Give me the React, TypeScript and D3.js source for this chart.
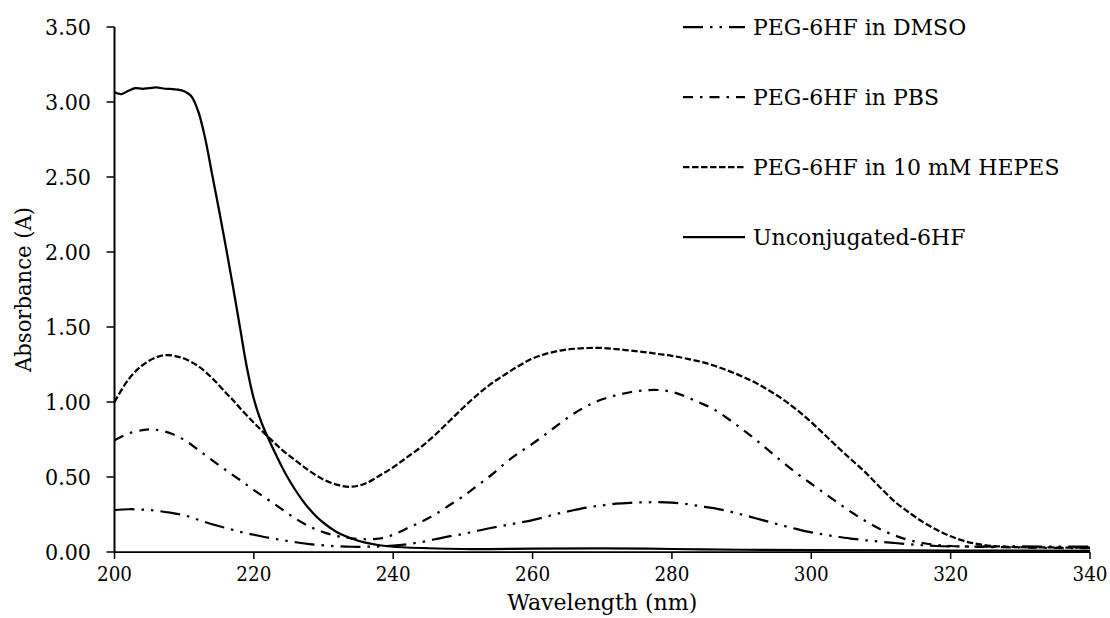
import React from "react";
import * as d3 from "d3";

const xTicks = [200, 220, 240, 260, 280, 300, 320, 340];
const yTicks = [0, 0.5, 1, 1.5, 2, 2.5, 3, 3.5];

const seriesNames = [
  "PEG-6HF in DMSO",
  "PEG-6HF in PBS",
  "PEG-6HF in 10 mM HEPES",
  "Unconjugated-6HF",
];

const dmso: [number, number][] = [
  [200, 0.28], [202, 0.285], [204, 0.283], [206, 0.275], [208, 0.262], [210, 0.245],
  [212, 0.215], [214, 0.185], [216, 0.16], [218, 0.135], [220, 0.115], [222, 0.096],
  [224, 0.08], [226, 0.065], [228, 0.053], [230, 0.044], [232, 0.038], [234, 0.035],
  [236, 0.035], [238, 0.037], [240, 0.042], [242, 0.052], [244, 0.066], [246, 0.085],
  [248, 0.104], [250, 0.12], [252, 0.14], [254, 0.16], [256, 0.178], [258, 0.195],
  [260, 0.213], [262, 0.236], [264, 0.26], [266, 0.28], [268, 0.298], [270, 0.311],
  [272, 0.322], [274, 0.328], [276, 0.331], [278, 0.332], [280, 0.329], [282, 0.32],
  [284, 0.306], [286, 0.292], [288, 0.273], [290, 0.25], [292, 0.225], [294, 0.2],
  [296, 0.175], [298, 0.152], [300, 0.131], [302, 0.115], [304, 0.1], [306, 0.088],
  [308, 0.077], [310, 0.068], [312, 0.06], [314, 0.052], [316, 0.045], [318, 0.04],
  [320, 0.038], [325, 0.036], [330, 0.037], [335, 0.036], [340, 0.035],
];

const pbs: [number, number][] = [
  [200, 0.745], [202, 0.79], [204, 0.812], [205, 0.818], [206, 0.815], [208, 0.792],
  [210, 0.747], [212, 0.682], [214, 0.612], [216, 0.545], [218, 0.48], [220, 0.413],
  [222, 0.35], [224, 0.286], [226, 0.222], [228, 0.17], [230, 0.132], [232, 0.106],
  [234, 0.091], [236, 0.085], [238, 0.09], [240, 0.115], [242, 0.158], [244, 0.2],
  [246, 0.25], [248, 0.31], [250, 0.37], [252, 0.44], [254, 0.51], [256, 0.59],
  [258, 0.66], [260, 0.722], [262, 0.79], [264, 0.86], [266, 0.925], [268, 0.978],
  [270, 1.018], [272, 1.045], [274, 1.065], [276, 1.077], [278, 1.08], [280, 1.067],
  [282, 1.035], [284, 0.995], [286, 0.952], [288, 0.89], [290, 0.822], [292, 0.75],
  [294, 0.672], [296, 0.595], [298, 0.522], [300, 0.455], [302, 0.388], [304, 0.322],
  [306, 0.258], [308, 0.2], [310, 0.15], [312, 0.11], [314, 0.08], [316, 0.06],
  [318, 0.047], [320, 0.04], [325, 0.034], [330, 0.03], [335, 0.027], [340, 0.025],
];

const hepes: [number, number][] = [
  [200, 1.0], [202, 1.15], [204, 1.245], [206, 1.298], [207.5, 1.313], [209, 1.303],
  [210, 1.29], [212, 1.24], [214, 1.16], [216, 1.06], [217, 1.013], [218, 0.96],
  [220, 0.862], [222, 0.77], [224, 0.683], [226, 0.61], [228, 0.54], [230, 0.483],
  [232, 0.447], [234, 0.435], [236, 0.457], [238, 0.508], [240, 0.565], [242, 0.632],
  [244, 0.7], [246, 0.78], [248, 0.87], [250, 0.96], [252, 1.045], [254, 1.12],
  [256, 1.182], [258, 1.24], [260, 1.29], [262, 1.322], [264, 1.343], [266, 1.355],
  [268, 1.36], [270, 1.36], [272, 1.353], [274, 1.343], [276, 1.333], [278, 1.32],
  [280, 1.308], [282, 1.29], [284, 1.27], [286, 1.243], [288, 1.21], [290, 1.172],
  [292, 1.128], [294, 1.075], [296, 1.015], [298, 0.945], [300, 0.865], [302, 0.778],
  [304, 0.69], [306, 0.605], [308, 0.52], [310, 0.425], [312, 0.335], [314, 0.265],
  [316, 0.2], [318, 0.148], [320, 0.105], [322, 0.072], [324, 0.052], [326, 0.04],
  [330, 0.032], [335, 0.03], [340, 0.03],
];

const unconjugated: [number, number][] = [
  [200, 3.065], [201, 3.053], [202, 3.075], [203, 3.093], [204, 3.088], [205, 3.093],
  [206, 3.097], [207, 3.09], [208, 3.087], [209, 3.083], [210, 3.072], [211, 3.04],
  [212, 2.94], [213, 2.76], [214, 2.52], [215, 2.28], [216, 2.03], [217, 1.77],
  [218, 1.5], [219, 1.23], [220, 1.02], [221, 0.875], [222, 0.765], [223, 0.665],
  [224, 0.57], [225, 0.485], [226, 0.41], [227, 0.343], [228, 0.285], [229, 0.235],
  [230, 0.195], [231, 0.16], [232, 0.13], [234, 0.09], [236, 0.062], [238, 0.045],
  [240, 0.035], [245, 0.025], [250, 0.02], [260, 0.022], [270, 0.024], [280, 0.02],
  [290, 0.015], [300, 0.012], [320, 0.01], [340, 0.008],
];

const allSeries = [dmso, pbs, hepes, unconjugated];
const dashes = ["20,7,2.5,7,2.5,7", "10,7,2.5,7", "6.5,2.5", "none"];

const W = 1110;
const H = 618;
const FONT = "DejaVu Serif";

export default function App() {
  const x = d3.scaleLinear().domain([200, 340]).range([114.5, 1090]);
  const y = d3.scaleLinear().domain([0, 3.5]).range([552, 27]);
  const line = d3
    .line<[number, number]>()
    .x((d) => x(d[0]))
    .y((d) => y(d[1]))
    .curve(d3.curveCatmullRom.alpha(0.5));

  const legendY = [27, 97, 167, 237];
  const tick = { fontFamily: FONT, fontSize: 22 };
  const xTickStyle = { fontFamily: FONT, fontSize: 20.5 };

  return (
    <svg
      width={W}
      height={H}
      style={{ position: "absolute", left: 0, top: 0, background: "#fff" }}
    >
      <rect width={W} height={H} fill="#fff" />
      {allSeries.map((s, i) => (
        <path
          key={i}
          d={line(s) || ""}
          fill="none"
          stroke="#000"
          strokeWidth={2.25}
          strokeDasharray={dashes[i]}
        />
      ))}
      <line x1={x(200)} x2={x(200)} y1={y(3.5)} y2={y(0)} stroke="#000" strokeWidth={2} />
      <line x1={x(200)} x2={x(340)} y1={y(0)} y2={y(0)} stroke="#000" strokeWidth={1.75} />
      {yTicks.map((t) => (
        <g key={t}>
          <line x1={x(200) - 8} x2={x(200)} y1={y(t)} y2={y(t)} stroke="#000" strokeWidth={1.5} />
          <text x={91} y={y(t) + 8} textAnchor="end" fill="#000" style={tick}
            textLength={46} lengthAdjust="spacingAndGlyphs">
            {t.toFixed(2)}
          </text>
        </g>
      ))}
      {xTicks.map((t) => (
        <g key={t}>
          <line x1={x(t)} x2={x(t)} y1={y(0)} y2={y(0) + 7} stroke="#000" strokeWidth={1.5} />
          <text x={x(t)} y={581} textAnchor="middle" fill="#000" style={xTickStyle}
            textLength={35} lengthAdjust="spacingAndGlyphs">
            {t}
          </text>
        </g>
      ))}
      <text
        x={(x(200) + x(340)) / 2}
        y={610}
        textAnchor="middle"
        fill="#000"
        style={tick}
        textLength={190}
        lengthAdjust="spacingAndGlyphs"
      >
        Wavelength (nm)
      </text>
      <text
        transform={`translate(31, ${(y(0) + y(3.5)) / 2}) rotate(-90)`}
        textAnchor="middle"
        fill="#000"
        style={tick}
        textLength={165}
        lengthAdjust="spacingAndGlyphs"
      >
        Absorbance (A)
      </text>
      {seriesNames.map((n, i) => (
        <g key={n}>
          <line
            x1={683}
            x2={745}
            y1={legendY[i]}
            y2={legendY[i]}
            stroke="#000"
            strokeWidth={2.25}
            strokeDasharray={dashes[i]}
          />
          <text x={753} y={legendY[i] + 8} fill="#000" style={tick}>
            {n}
          </text>
        </g>
      ))}
    </svg>
  );
}
